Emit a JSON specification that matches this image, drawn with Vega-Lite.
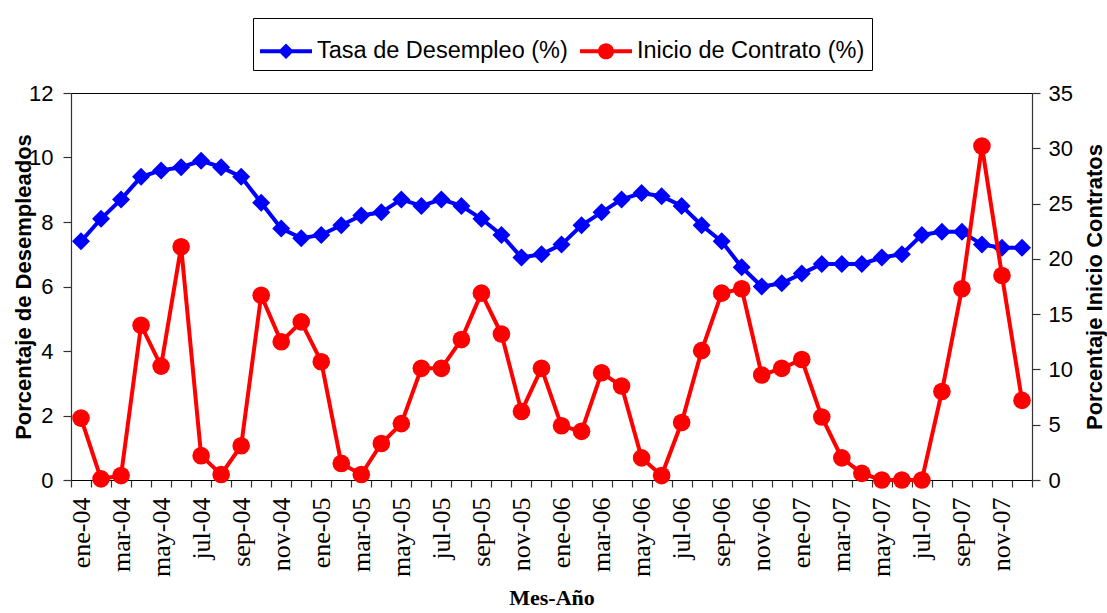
{
  "$schema": "https://vega.github.io/schema/vega-lite/v6.json",
  "width": 961,
  "height": 387,
  "autosize": {"type": "none"},
  "padding": {"left": 71, "top": 93, "right": 75, "bottom": 133},
  "background": "white",
  "config": {
    "view": {"stroke": "black", "strokeWidth": 1},
    "axis": {"grid": false, "labelColor": "black", "titleColor": "black", "domainColor": "#333333", "tickColor": "#333333", "domainWidth": 1.2, "tickWidth": 1.2}
  },
  "data": {
    "values": [
      {"mes": "ene-04", "desempleo": 7.4, "contrato": 5.6},
      {"mes": "feb-04", "desempleo": 8.1, "contrato": 0.1},
      {"mes": "mar-04", "desempleo": 8.7, "contrato": 0.4},
      {"mes": "abr-04", "desempleo": 9.4, "contrato": 14.0},
      {"mes": "may-04", "desempleo": 9.6, "contrato": 10.3},
      {"mes": "jun-04", "desempleo": 9.7, "contrato": 21.1},
      {"mes": "jul-04", "desempleo": 9.9, "contrato": 2.2},
      {"mes": "ago-04", "desempleo": 9.7, "contrato": 0.5},
      {"mes": "sep-04", "desempleo": 9.4, "contrato": 3.1},
      {"mes": "oct-04", "desempleo": 8.6, "contrato": 16.7},
      {"mes": "nov-04", "desempleo": 7.8, "contrato": 12.5},
      {"mes": "dic-04", "desempleo": 7.5, "contrato": 14.3},
      {"mes": "ene-05", "desempleo": 7.6, "contrato": 10.7},
      {"mes": "feb-05", "desempleo": 7.9, "contrato": 1.5},
      {"mes": "mar-05", "desempleo": 8.2, "contrato": 0.5},
      {"mes": "abr-05", "desempleo": 8.3, "contrato": 3.3},
      {"mes": "may-05", "desempleo": 8.7, "contrato": 5.1},
      {"mes": "jun-05", "desempleo": 8.5, "contrato": 10.1},
      {"mes": "jul-05", "desempleo": 8.7, "contrato": 10.1},
      {"mes": "ago-05", "desempleo": 8.5, "contrato": 12.7},
      {"mes": "sep-05", "desempleo": 8.1, "contrato": 16.9},
      {"mes": "oct-05", "desempleo": 7.6, "contrato": 13.2},
      {"mes": "nov-05", "desempleo": 6.9, "contrato": 6.2},
      {"mes": "dic-05", "desempleo": 7.0, "contrato": 10.1},
      {"mes": "ene-06", "desempleo": 7.3, "contrato": 4.9},
      {"mes": "feb-06", "desempleo": 7.9, "contrato": 4.4},
      {"mes": "mar-06", "desempleo": 8.3, "contrato": 9.7},
      {"mes": "abr-06", "desempleo": 8.7, "contrato": 8.5},
      {"mes": "may-06", "desempleo": 8.9, "contrato": 2.0},
      {"mes": "jun-06", "desempleo": 8.8, "contrato": 0.4},
      {"mes": "jul-06", "desempleo": 8.5, "contrato": 5.2},
      {"mes": "ago-06", "desempleo": 7.9, "contrato": 11.7},
      {"mes": "sep-06", "desempleo": 7.4, "contrato": 16.9},
      {"mes": "oct-06", "desempleo": 6.6, "contrato": 17.3},
      {"mes": "nov-06", "desempleo": 6.0, "contrato": 9.5},
      {"mes": "dic-06", "desempleo": 6.1, "contrato": 10.1},
      {"mes": "ene-07", "desempleo": 6.4, "contrato": 10.9},
      {"mes": "feb-07", "desempleo": 6.7, "contrato": 5.7},
      {"mes": "mar-07", "desempleo": 6.7, "contrato": 2.0},
      {"mes": "abr-07", "desempleo": 6.7, "contrato": 0.6},
      {"mes": "may-07", "desempleo": 6.9, "contrato": 0.0},
      {"mes": "jun-07", "desempleo": 7.0, "contrato": 0.0},
      {"mes": "jul-07", "desempleo": 7.6, "contrato": 0.0},
      {"mes": "ago-07", "desempleo": 7.7, "contrato": 8.0},
      {"mes": "sep-07", "desempleo": 7.7, "contrato": 17.3},
      {"mes": "oct-07", "desempleo": 7.3, "contrato": 30.2},
      {"mes": "nov-07", "desempleo": 7.2, "contrato": 18.5},
      {"mes": "dic-07", "desempleo": 7.2, "contrato": 7.2}
    ]
  },
  "layer": [
    {
      "mark": {"type": "line", "strokeWidth": 4, "point": {"shape": "diamond", "size": 324, "filled": true, "opacity": 1}},
      "encoding": {
        "x": {
          "field": "mes", "type": "ordinal", "sort": null,
          "scale": {"type": "band", "paddingInner": 0, "paddingOuter": 0},
          "axis": {
            "title": "Mes-Año", "titleFont": "Liberation Serif", "titleFontSize": 22, "titleFontWeight": "bold", "titlePadding": 11,
            "labelFont": "Liberation Serif", "labelFontSize": 26, "labelAngle": -90, "labelPadding": 10, "labelOverlap": false,
            "labelExpr": "test(/^(ene|mar|may|jul|sep|nov)/, datum.value) ? datum.value : ''",
            "tickBand": "extent", "tickSize": 7, "domainColor": "black"
          }
        },
        "y": {
          "field": "desempleo", "type": "quantitative",
          "scale": {"domain": [0, 12], "nice": false},
          "axis": {
            "orient": "left", "values": [0, 2, 4, 6, 8, 10, 12], "format": "d",
            "title": "Porcentaje de Desempleados", "titleFont": "Liberation Sans", "titleFontSize": 22, "titleFontWeight": "bold", "titlePadding": -7,
            "labelFont": "Liberation Sans", "labelFontSize": 22, "labelPadding": 10, "tickSize": 8
          }
        },
        "color": {
          "datum": "Tasa de Desempleo (%)",
          "scale": {"domain": ["Tasa de Desempleo (%)", "Inicio de Contrato (%)"], "range": ["#0000ff", "#ff0000"]},
          "legend": {
            "title": null, "orient": "none", "legendX": 182, "legendY": -75, "direction": "horizontal", "columns": 2,
            "strokeColor": "black", "padding": 7, "columnPadding": 12, "labelOffset": 5, "labelLimit": 500,
            "labelFont": "Liberation Sans", "labelFontSize": 23.5, "labelColor": "black", "symbolSize": 2704,
            "encode": {
              "symbols": {
                "update": {
                  "shape": {"signal": "datum.value === 'Tasa de Desempleo (%)' ? 'M-1,-0.08H1V0.08H-1Z M0,-0.3L0.3,0L0,0.3L-0.3,0Z' : 'M-1,-0.08H1V0.08H-1Z M-0.31,0A0.31,0.31 0 1,1 0.31,0A0.31,0.31 0 1,1 -0.31,0Z'"},
                  "fill": {"signal": "datum.value === 'Tasa de Desempleo (%)' ? '#0000ff' : '#ff0000'"},
                  "stroke": {"value": "transparent"},
                  "strokeWidth": {"value": 0},
                  "size": {"value": 2704},
                  "opacity": {"value": 1},
                  "fillOpacity": {"value": 1}
                }
              }
            }
          }
        }
      }
    },
    {
      "mark": {"type": "line", "strokeWidth": 4, "point": {"shape": "circle", "size": 310, "filled": true, "opacity": 1}},
      "encoding": {
        "x": {
          "field": "mes", "type": "ordinal", "sort": null,
          "scale": {"type": "band", "paddingInner": 0, "paddingOuter": 0}
        },
        "y": {
          "field": "contrato", "type": "quantitative",
          "scale": {"domain": [0, 35], "nice": false},
          "axis": {
            "orient": "right", "values": [0, 5, 10, 15, 20, 25, 30, 35], "format": "d",
            "title": "Porcentaje Inicio Contratos", "titleFont": "Liberation Sans", "titleFontSize": 22, "titleFontWeight": "bold",
            "titleAngle": -90, "titleBaseline": "top", "titlePadding": 12,
            "labelFont": "Liberation Sans", "labelFontSize": 22, "labelPadding": 8, "tickSize": 8
          }
        },
        "color": {
          "datum": "Inicio de Contrato (%)",
          "scale": {"domain": ["Tasa de Desempleo (%)", "Inicio de Contrato (%)"], "range": ["#0000ff", "#ff0000"]}
        }
      }
    }
  ],
  "resolve": {"scale": {"y": "independent"}}
}
